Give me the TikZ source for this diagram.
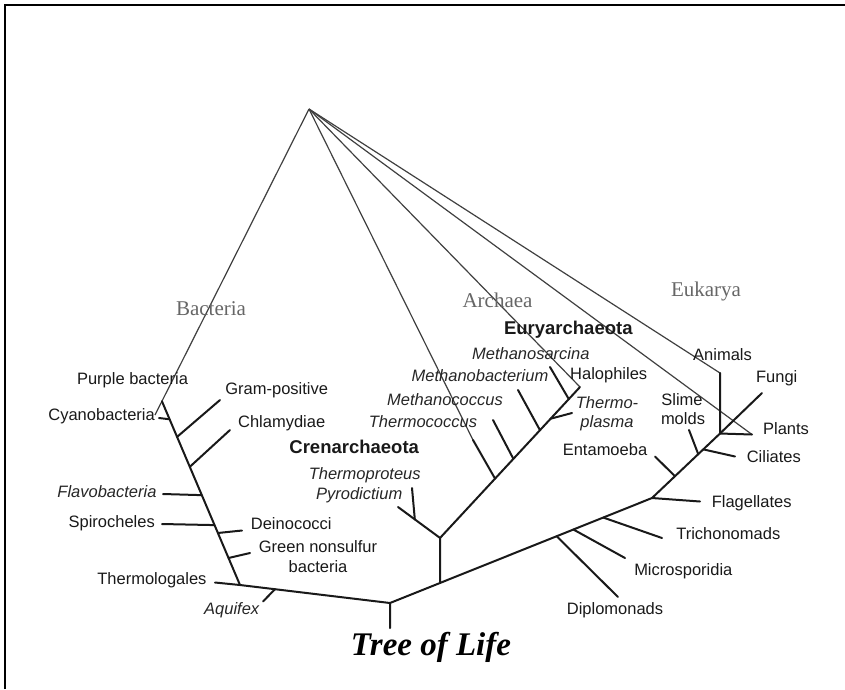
\documentclass[tikz,border=0pt]{standalone}
\usepackage{fontspec}
\setmainfont{Liberation Sans}
\newfontfamily\seriffam{Liberation Serif}
\usetikzlibrary{calc}
\begin{document}
\begin{tikzpicture}[x=1pt,y=-1pt,
  lab/.style={font=\fontsize{16.5}{19}\selectfont, text=black!90, inner sep=0pt},
  ilab/.style={font=\fontsize{16.5}{19}\selectfont\itshape, text=black!85, inner sep=0pt},
  blab/.style={font=\fontsize{18.5}{21}\selectfont\bfseries, text=black!90, inner sep=0pt},
  dom/.style={font=\seriffam\fontsize{21}{24}\selectfont, text=black!60, inner sep=0pt},
  br/.style={line width=2pt, line cap=round, draw=black!90},
  apexline/.style={line width=1.2pt, draw=black!75},
]
\useasboundingbox (0,0) rectangle (845,689);
\draw[line width=2pt] (4.5,689) -- (4.5,4.5) -- (845,4.5);

% ---------- coordinates ----------
\coordinate (A) at (309,109);
\coordinate (Bpur) at (155,415);
\coordinate (Bj) at ($(A)!0.955!(Bpur)$);
\coordinate (Bb) at (240,585);
\coordinate (R) at (390,603);
\coordinate (Rt) at (390,628);
\coordinate (E1) at (652,498);
\coordinate (EJ) at (720,433.5);
\coordinate (AnT) at (720,373);
\coordinate (PlT) at (752,434.5);
\coordinate (FuT) at (762,393);
\coordinate (Ab) at ($(R)!0.191!(E1)$);
\coordinate (Ac) at ($(Ab)+(0,-45)$);
\coordinate (Et) at (580,387);
\coordinate (Pyr) at (398,507);
\coordinate (Tpr) at (412,488);
\coordinate (TcT) at (473,440);
\coordinate (McT) at (493,420);
\coordinate (MbT) at (518,390);
\coordinate (TpT) at (572,413);
\coordinate (MsT) at (550,367);
% bacterial tips
\coordinate (CyT) at (159,418);
\coordinate (GpT) at (220,400);
\coordinate (ChT) at (230,430);
\coordinate (FlT) at (163,494);
\coordinate (SpT) at (162,524);
\coordinate (DeT) at (242,530.5);
\coordinate (GnT) at (250,553);
\coordinate (ThT) at (215,582.5);
\coordinate (AqT) at (263,601.5);
% eukaryal tips
\coordinate (DiT) at (618,597);
\coordinate (MiT) at (625,558);
\coordinate (TrT) at (662,538);
\coordinate (FgT) at (700,501.5);
\coordinate (EnT) at (655,456.5);
\coordinate (SmT) at (689,430);
\coordinate (CiT) at (735,456.5);

% ---------- apex lines ----------
\draw[apexline] (A) -- (Bpur);
\draw[apexline] (A) -- (TcT);
\draw[apexline] (A) -- (Et);
\draw[apexline] (A) -- (PlT);
\draw[apexline] (A) -- (AnT);

% ---------- Bacteria ----------
\draw[br] (Bj) -- (Bb) -- (R) -- (Rt);
\draw[br] (CyT) -- ($(Bj)!0.098!(Bb)$);
\draw[br] ($(Bj)!0.194!(Bb)$) -- (GpT);
\draw[br] ($(Bj)!0.357!(Bb)$) -- (ChT);
\draw[br] (FlT) -- ($(Bj)!0.511!(Bb)$);
\draw[br] (SpT) -- ($(Bj)!0.674!(Bb)$);
\draw[br] ($(Bj)!0.717!(Bb)$) -- (DeT);
\draw[br] ($(Bj)!0.853!(Bb)$) -- (GnT);
\draw[br] (ThT) -- (Bb);
\draw[br] ($(Bb)!0.233!(R)$) -- (AqT);

% ---------- Archaea ----------
\draw[br] (Ab) -- (Ac) -- (Pyr);
\draw[br] ($(Ac)!0.6!(Pyr)$) -- (Tpr);
\draw[br] (Ac) -- (Et);
\draw[br] ($(Ac)!0.393!(Et)$) -- (TcT);
\draw[br] ($(Ac)!0.524!(Et)$) -- (McT);
\draw[br] ($(Ac)!0.714!(Et)$) -- (MbT);
\draw[br] ($(Ac)!0.79!(Et)$) -- (TpT);
\draw[br] ($(Ac)!0.92!(Et)$) -- (MsT);

% ---------- Eukarya ----------
\draw[br] (R) -- (E1) -- (EJ) -- (AnT);
\draw[br] ($(R)!0.636!(E1)$) -- (DiT);
\draw[br] ($(R)!0.700!(E1)$) -- (MiT);
\draw[br] ($(R)!0.814!(E1)$) -- (TrT);
\draw[br] (E1) -- (FgT);
\draw[br] ($(E1)!0.338!(EJ)$) -- (EnT);
\draw[br] ($(E1)!0.68!(EJ)$) -- (SmT);
\draw[br] ($(E1)!0.754!(EJ)$) -- (CiT);
\draw[br] (EJ) -- (FuT);
\draw[br] (EJ) -- (PlT);

% ---------- labels ----------
\node[dom] (lBac) at (211,308.3) {Bacteria};
\node[dom] (lArc) at (497.5,300) {Archaea};
\node[dom] (lEuk) at (706,291.7) {Eukarya};

\node[lab, anchor=mid] (lPur) at (132.5,381.7) {Purple bacteria};
\node[lab, anchor=mid] (lGram) at (276.7,391.7) {Gram-positive};
\node[lab, anchor=mid east] (lCya) at (155,418.3) {Cyanobacteria};
\node[lab, anchor=mid] (lChl) at (281.7,425) {Chlamydiae};
\node[ilab, anchor=mid east] (lFla) at (156.7,495) {Flavobacteria};
\node[lab, anchor=mid east] (lSpi) at (155,525) {Spirocheles};
\node[lab, anchor=mid west] (lDei) at (250.7,526.7) {Deinococci};
\node[lab, anchor=mid] (lGreen) at (318,550) {Green nonsulfur};
\node[lab, anchor=mid] (lGreenb) at (318,570) {bacteria};
\node[lab, anchor=mid east] (lThl) at (206.7,581.7) {Thermologales};
\node[ilab, anchor=mid] (lAqu) at (231.7,611.7) {Aquifex};

\node[blab, anchor=mid] (lEury) at (568.3,331.7) {Euryarchaeota};
\node[ilab, anchor=mid] (lMsc) at (530.8,356.7) {Methanosarcina};
\node[ilab, anchor=mid] (lMbt) at (480,379.3) {Methanobacterium};
\node[lab, anchor=mid west] (lHal) at (570,376.7) {Halophiles};
\node[ilab, anchor=mid] (lMcc) at (445,402.7) {Methanococcus};
\node[ilab, anchor=mid] (lTpl1) at (607,406) {Thermo-};
\node[ilab, anchor=mid] (lTpl2) at (607,425) {plasma};
\node[ilab, anchor=mid] (lTcc) at (423,425) {Thermococcus};
\node[blab, anchor=mid] (lCren) at (354.2,450.7) {Crenarchaeota};
\node[ilab, anchor=mid] (lTpr) at (364.7,476.7) {Thermoproteus};
\node[ilab, anchor=mid] (lPyr) at (359.2,497.3) {Pyrodictium};

\node[lab, anchor=mid] (lAni) at (722.5,358.3) {Animals};
\node[lab, anchor=mid] (lFun) at (776.7,380) {Fungi};
\node[lab, anchor=mid] (lSli1) at (682,403.3) {Slime};
\node[lab, anchor=mid] (lSli2) at (683,421.7) {molds};
\node[lab, anchor=mid] (lPla) at (786,432.3) {Plants};
\node[lab, anchor=mid] (lCil) at (773.8,460) {Ciliates};
\node[lab, anchor=mid] (lEnt) at (605,452.7) {Entamoeba};
\node[lab, anchor=mid] (lFlg) at (751.7,505) {Flagellates};
\node[lab, anchor=mid] (lTri) at (728.3,536.7) {Trichonomads};
\node[lab, anchor=mid] (lMic) at (683.3,573.3) {Microsporidia};
\node[lab, anchor=mid] (lDip) at (615,611.7) {Diplomonads};

\node[font=\seriffam\bfseries\itshape\fontsize{33}{36}\selectfont, inner sep=0pt, anchor=base] (lTree) at (431,655) {Tree of Life};
\end{tikzpicture}
\end{document}
